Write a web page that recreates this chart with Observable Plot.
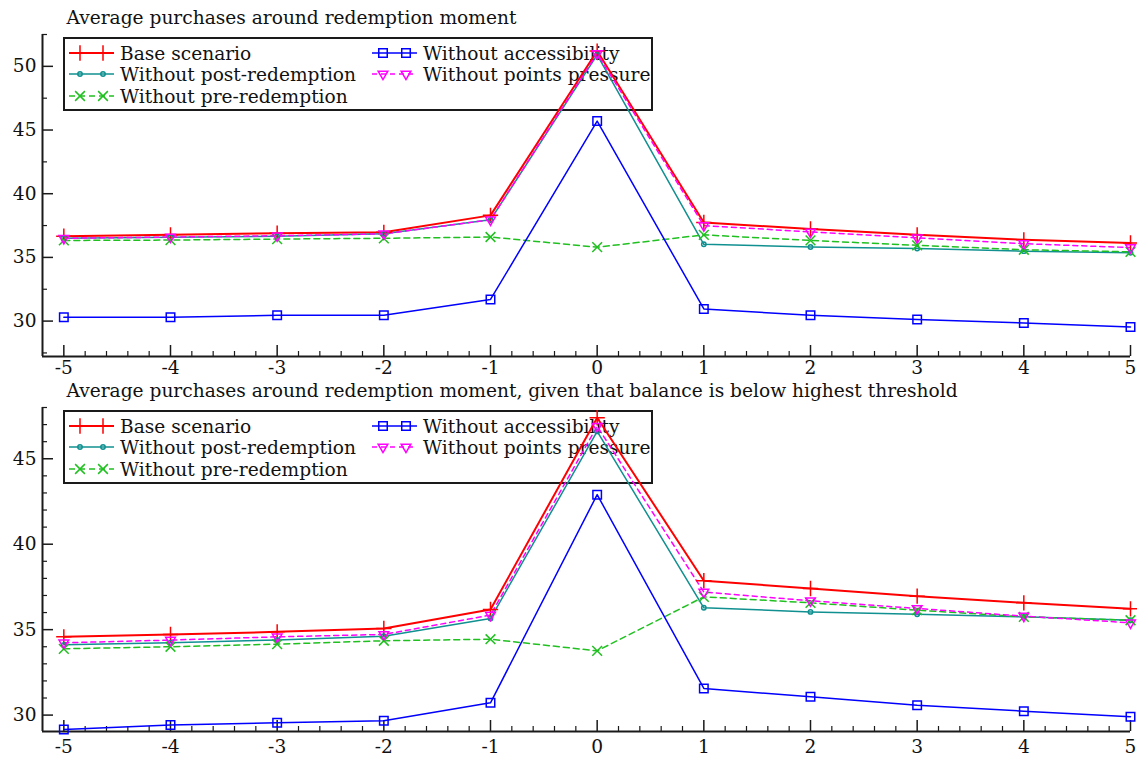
<!DOCTYPE html>
<html><head><meta charset="utf-8">
<script src="https://cdn.jsdelivr.net/npm/d3@7"></script>
<script src="https://cdn.jsdelivr.net/npm/@observablehq/plot@0.6"></script>
<style>
html,body{margin:0;padding:0;background:#fff;}
#chart{width:1137px;height:758px;overflow:hidden;}
#chart svg{display:block;}
</style></head><body><div id="chart"></div>
<script>
// ---------- data ----------
const periods = [-5, -4, -3, -2, -1, 0, 1, 2, 3, 4, 5];
const seriesNames = ["Base scenario", "Without post-redemption", "Without pre-redemption", "Without accessibility", "Without points pressure"];
const panelTitles = [
  "Average purchases around redemption moment",
  "Average purchases around redemption moment, given that balance is below highest threshold"
];
const yTicksTop = [30, 35, 40, 45, 50];
const yTicksBottom = [30, 35, 40, 45];

// top panel
const base1   = [36.67, 36.77, 36.90, 36.97, 38.30, 51.20, 37.74, 37.23, 36.77, 36.38, 36.13];
const post1   = [36.50, 36.58, 36.66, 36.85, 37.95, 50.90, 36.03, 35.82, 35.69, 35.49, 35.36];
const pre1    = [36.33, 36.36, 36.44, 36.50, 36.60, 35.80, 36.77, 36.33, 35.95, 35.60, 35.44];
const access1 = [30.30, 30.30, 30.46, 30.46, 31.70, 45.70, 30.95, 30.46, 30.13, 29.85, 29.54];
const points1 = [36.50, 36.60, 36.70, 36.85, 37.95, 51.00, 37.50, 37.00, 36.54, 36.08, 35.77];

// bottom panel
const base2   = [34.58, 34.72, 34.87, 35.07, 36.18, 47.40, 37.86, 37.41, 36.96, 36.57, 36.22];
const post2   = [34.11, 34.23, 34.40, 34.62, 35.65, 46.60, 36.28, 36.04, 35.90, 35.75, 35.55];
const pre2    = [33.88, 34.00, 34.15, 34.35, 34.44, 33.76, 36.92, 36.57, 36.14, 35.75, 35.55];
const access2 = [29.16, 29.42, 29.55, 29.67, 30.72, 42.90, 31.56, 31.07, 30.58, 30.23, 29.90];
const points2 = [34.23, 34.39, 34.58, 34.72, 35.85, 46.90, 37.20, 36.69, 36.24, 35.79, 35.40];

// ---------- styles ----------
const styles = [
  {color: "#ff0000", symbol: "plus",     r: 5,   dash: null,  width: 2,   rotate: 0},
  {color: "#109090", symbol: "circle",   r: 2.2, dash: null,  width: 1.5, rotate: 0},
  {color: "#20c020", symbol: "times",    r: 4.5, dash: "6,4", width: 1.5, rotate: 0},
  {color: "#0000ff", symbol: "square",   r: 4.8, dash: null,  width: 1.5, rotate: 0},
  {color: "#ff00ff", symbol: "triangle", r: 3.6, dash: "5,4", width: 1.5, rotate: 180}
];
const FONT = "'DejaVu Serif', 'Liberation Serif', serif";
const FS = 18.6;
const AXIS = "#1a1a1a";
const X_LEFT = -5.2;

function makePanel({title, values, yDomain, yMajor, yMinorStep, height, marginTop, marginBottom, tickPad}) {
  const marginLeft = 42, marginRight = 7, width = 1137;
  const frameW = width - marginLeft - marginRight;
  const frameH = height - marginTop - marginBottom;
  const xMinor = d3.range(-50, 51, 2).map(d => d / 10).filter(d => !Number.isInteger(d));
  const yMinor = d3.range(Math.ceil(yDomain[0] / yMinorStep) * yMinorStep, yDomain[1] + 1e-9, yMinorStep)
    .filter(d => !yMajor.includes(d));
  const marks = [];
  // axis lines
  marks.push(Plot.ruleX([X_LEFT], {stroke: AXIS, strokeWidth: 2}));
  marks.push(Plot.ruleY([yDomain[0]], {stroke: AXIS, strokeWidth: 2}));
  // inward ticks
  marks.push(Plot.tickX(periods, {x: d => d, insetTop: frameH - 11, stroke: AXIS, strokeWidth: 1.5}));
  marks.push(Plot.tickX(xMinor, {x: d => d, insetTop: frameH - 5, stroke: AXIS, strokeWidth: 1.2}));
  marks.push(Plot.tickY(yMajor, {y: d => d, insetRight: frameW - 11, stroke: AXIS, strokeWidth: 1.5}));
  marks.push(Plot.tickY(yMinor, {y: d => d, insetRight: frameW - 5, stroke: AXIS, strokeWidth: 1.2}));
  // axis labels
  marks.push(Plot.axisX(periods, {tickSize: 0, tickPadding: tickPad, fontSize: FS, label: null, tickFormat: d => String(d)}));
  marks.push(Plot.axisY(yMajor, {tickSize: 0, tickPadding: 6, fontSize: FS, label: null, tickFormat: d => String(d)}));
  // series
  seriesNames.forEach((name, i) => {
    const rows = periods.map((p, j) => ({x: p, y: values[i][j], series: name}));
    const s = styles[i];
    marks.push(Plot.line(rows, {x: "x", y: "y", stroke: s.color, strokeWidth: s.width, strokeDasharray: s.dash}));
  });
  seriesNames.forEach((name, i) => {
    const rows = periods.map((p, j) => ({x: p, y: values[i][j], series: name}));
    const s = styles[i];
    marks.push(Plot.dot(rows, {x: "x", y: "y", symbol: () => s.symbol, r: s.r, stroke: s.color, fill: "none", strokeWidth: 1.5, rotate: s.rotate}));
  });
  // title
  marks.push(Plot.text([title], {frameAnchor: "top-left", dx: 24, dy: -16, text: d => d, textAnchor: "start", lineAnchor: "middle", fontSize: FS, fill: "#111"}));

  const svg = Plot.plot({
    width, height, marginLeft, marginRight, marginTop, marginBottom,
    x: {domain: [X_LEFT, 5]},
    y: {domain: yDomain},
    symbol: {type: "identity"},
    style: {fontFamily: FONT, fontSize: FS + "px", color: "#111", background: "#fff", overflow: "visible"},
    marks
  });
  addLegend(svg, marginTop);
  return svg;
}

function addLegend(svg, marginTop) {
  const root = d3.select(svg);
  const firstLine = svg.querySelector("g[aria-label='line']");
  const g = root.insert("g", () => firstLine).attr("aria-label", "legend");
  g.append("rect").attr("x", 64).attr("y", marginTop + 4).attr("width", 588).attr("height", 72)
    .attr("fill", "#fff").attr("stroke", AXIS).attr("stroke-width", 2);
  const symMap = {plus: d3.symbolPlus, circle: d3.symbolCircle, times: d3.symbolTimes, square: d3.symbolSquare, triangle: d3.symbolTriangle};
  const layout = [[0, 0], [0, 1], [0, 2], [1, 0], [1, 1]];
  const colX = [69, 372];
  const rowY = [19, 40, 62];
  seriesNames.forEach((name, i) => {
    const s = styles[i];
    const [c, r] = layout[i];
    const x0 = colX[c], y0 = marginTop + rowY[r];
    g.append("line").attr("x1", x0).attr("x2", x0 + 45).attr("y1", y0).attr("y2", y0)
      .attr("stroke", s.color).attr("stroke-width", s.width).attr("stroke-dasharray", s.dash);
    [x0 + 11, x0 + 34].forEach(mx => {
      g.append("path").attr("d", d3.symbol(symMap[s.symbol], Math.PI * s.r * s.r)())
        .attr("transform", `translate(${mx},${y0}) rotate(${s.rotate})`)
        .attr("fill", "none").attr("stroke", s.color).attr("stroke-width", 1.5);
    });
    g.append("text").attr("x", x0 + 51).attr("y", y0).attr("dy", "0.35em")
      .attr("text-anchor", "start")
      .attr("font-size", FS).attr("fill", "#111").attr("font-family", FONT).text(name);
  });
}

const chart = document.getElementById("chart");
chart.appendChild(makePanel({
  title: panelTitles[0],
  values: [base1, post1, pre1, access1, points1],
  yDomain: [27.22, 52.5], yMajor: yTicksTop, yMinorStep: 2.5,
  height: 380, marginTop: 34, marginBottom: 24, tickPad: 4
}));
chart.appendChild(makePanel({
  title: panelTitles[1],
  values: [base2, post2, pre2, access2, points2],
  yDomain: [29.04, 48], yMajor: yTicksBottom, yMinorStep: 1,
  height: 378, marginTop: 27, marginBottom: 27, tickPad: 8
}));
</script></body></html>
